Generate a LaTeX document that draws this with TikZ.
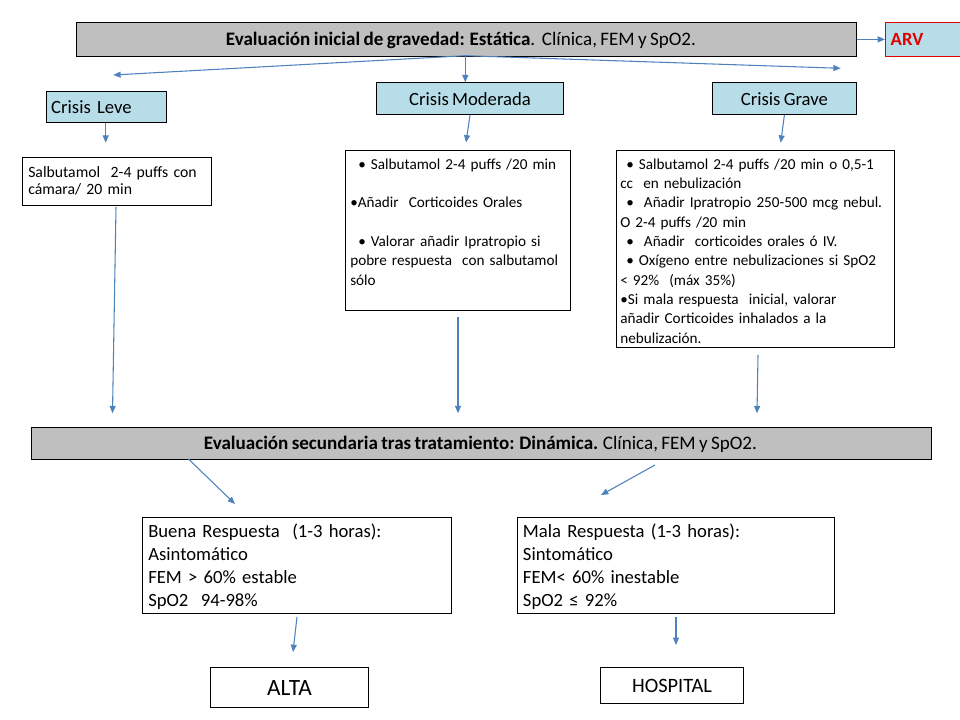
\documentclass[tikz,border=0pt]{standalone}
\usepackage{fontspec}
\setmainfont{Carlito}[WordSpace=0.78]
\usetikzlibrary{arrows.meta}
\definecolor{barg}{HTML}{BFBFBF}
\definecolor{lblue}{HTML}{B7DEE8}
\definecolor{arr}{HTML}{4F81BD}
\definecolor{arvred}{HTML}{E00000}
\tikzset{
  conn/.style={draw=arr, line width=0.8pt, -{Triangle[length=5.5pt,width=4.5pt]}},
  nw/.style 2 args={anchor=north west, minimum width=#1*0.75pt, minimum height=#2*0.75pt},
  bar/.style={draw=black, fill=barg, line width=0.8pt, inner sep=0pt},
  crisis/.style={draw=black, fill=lblue, line width=0.8pt, inner sep=0pt},
  wbox/.style={draw=black, fill=white, line width=0.8pt, inner sep=0pt},
  txt/.style={inner sep=0pt, align=left},
  bartxt/.style={inner sep=0pt, anchor=base, font=\fontsize{14.3pt}{17pt}\selectfont},
  small/.style={font=\fontsize{11.8pt}{12.75pt}\selectfont},
  list/.style={font=\fontsize{11.4pt}{14.5pt}\selectfont},
  resp/.style={font=\fontsize{14pt}{17.4pt}\selectfont},
}
\begin{document}
\begin{tikzpicture}[x=0.75pt,y=-0.75pt,font=\fontsize{14pt}{17pt}\selectfont]
\useasboundingbox (0,0) rectangle (960,720);

% top level
\node[bar, nw={779.5}{33.7}] (top) at (76,22) {};
\node[bartxt] (topT) at (461,45.8)
  {\textbf{Evaluación inicial de gravedad: Estática}.\ \ Clínica, FEM y SpO2.};
\node[crisis, draw=arvred, nw={81}{33.7}, text width=53pt, align=left] (arv) at (885,22)
  {\textcolor{arvred}{\textbf{ARV}}};

% crisis boxes
\node[crisis, nw={120}{31.6}, text width=82.5pt, align=left] (leve) at (45.7,90.7) {Crisis Leve};
\node[crisis, nw={187.6}{31.7}] (mod) at (375.7,82.3) {Crisis Moderada};
\node[crisis, nw={143.7}{31.7}] (grave) at (712,82.3) {Crisis Grave};

% treatment boxes
\node[wbox, nw={188.4}{47.7}] (leveB) at (22.3,157.3) {};
\node[txt, small, text width=135pt, anchor=base west] (leveT) at (28,177.3)
  {Salbutamol\ \ 2-4 puffs con\\cámara/ 20 min};

\node[wbox, nw={225}{160}] (modB) at (345,150) {};
\node[txt, list, text width=165pt, anchor=base west] (modT) at (350,169.3)
  {\hspace*{6pt}• Salbutamol 2-4 puffs /20 min\\
   \mbox{}\\
   •Añadir\ \ Corticoides Orales\\
   \mbox{}\\
   \hspace*{6pt}• Valorar añadir Ipratropio si\\
   pobre respuesta\ \ con salbutamol\\
   sólo};

\node[wbox, nw={278}{197}] (graveB) at (616,150) {};
\node[txt, list, text width=205pt, anchor=base west] (graveT) at (620,169.3)
  {\hspace*{4.5pt}• Salbutamol 2-4 puffs /20 min o 0,5-1\\
   cc\ \ en nebulización\\
   \hspace*{4.5pt}•\ \ Añadir Ipratropio 250-500 mcg nebul.\\
   O 2-4 puffs /20 min\\
   \hspace*{4.5pt}•\ \ Añadir\ \ corticoides orales ó IV.\\
   \hspace*{4.5pt}• Oxígeno entre nebulizaciones si SpO2\\
   < 92\%\ \ (máx 35\%)\\
   •Si mala respuesta\ \ inicial, valorar\\
   añadir Corticoides inhalados a la\\
   nebulización.};

% secondary evaluation
\node[bar, nw={900}{32}] (sec) at (31,427) {};
\node[bartxt] (secT) at (480.5,449.3)
  {\textbf{Evaluación secundaria tras tratamiento: Dinámica.} Clínica, FEM y SpO2.};

% responses
\node[wbox, nw={309}{96}] (buena) at (142,517) {};
\node[txt, resp, text width=225pt, anchor=base west] (buenaT) at (148,537)
  {Buena Respuesta\ \ (1-3 horas):\\
   Asintomático\\
   FEM > 60\% estable\\
   SpO2\ \ 94-98\%};

\node[wbox, nw={317}{96}] (mala) at (517,517) {};
\node[txt, resp, text width=230pt, anchor=base west] (malaT) at (522.7,537)
  {Mala Respuesta (1-3 horas):\\
   Sintomático\\
   FEM< 60\% inestable\\
   SpO2 ≤ 92\%};

\node[wbox, nw={158}{40}, font=\fontsize{17.5pt}{20pt}\selectfont] (alta) at (210,667) {ALTA};
\node[wbox, nw={143}{36}, font=\fontsize{15.3pt}{18pt}\selectfont] (hosp) at (600,667) {HOSPITAL};

% free ends
\coordinate (tS) at (465.3,55.7);
\coordinate (eL) at (113.3,75);
\coordinate (eG) at (840.7,68.3);
\coordinate (eLv) at (105.7,142.7);
\coordinate (eM) at (466,142.5);
\coordinate (eGr) at (780.7,142.7);
\coordinate (s1) at (116,207);
\coordinate (e1) at (112.5,413.3);
\coordinate (s2) at (458,317);
\coordinate (e2) at (458,413.3);
\coordinate (s3) at (758,355);
\coordinate (e3) at (757,413.3);
\coordinate (s4) at (188.5,459);
\coordinate (e4) at (235,504);
\coordinate (s5) at (655,465);
\coordinate (e5) at (601,495);
\coordinate (s6) at (297,617);
\coordinate (e6) at (293,652);
\coordinate (s7) at (676,617);
\coordinate (e7) at (676,645);

% connectors
\draw[conn] (top.east) -- (arv.west);
\draw[conn] (tS) -- (eL);
\draw[conn] (tS) -- (tS |- mod.north);
\draw[conn] (tS) -- (eG);
\draw[conn] (leve.south -| eLv) -- (eLv);
\draw[conn] (mod.south) -- (eM);
\draw[conn] (grave.south) -- (eGr);
\draw[conn] (s1) -- (e1);
\draw[conn] (s2) -- (e2);
\draw[conn] (s3) -- (e3);
\draw[conn] (s4) -- (e4);
\draw[conn] (s5) -- (e5);
\draw[conn] (s6) -- (e6);
\draw[conn] (s7) -- (e7);
\end{tikzpicture}
\end{document}
